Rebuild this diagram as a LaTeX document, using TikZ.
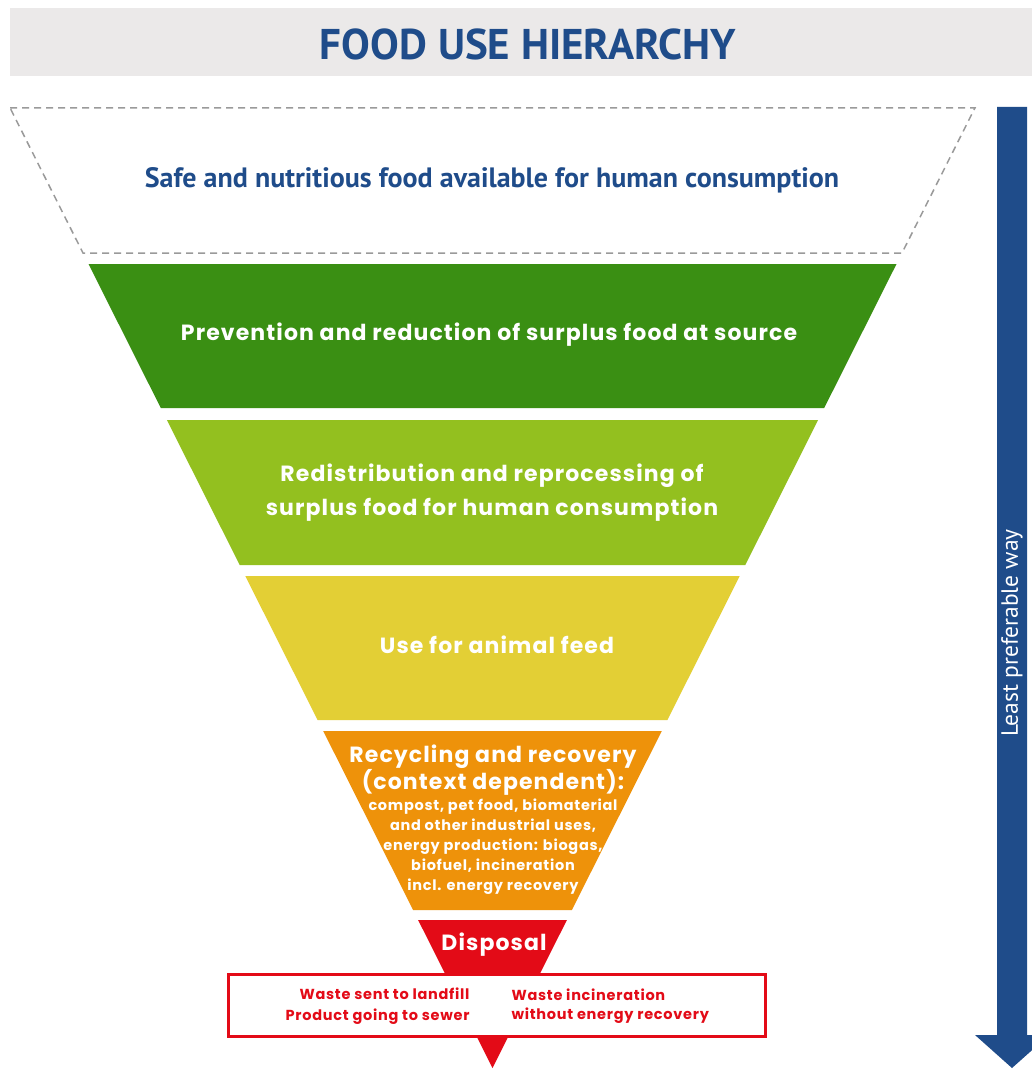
\documentclass[tikz,border=0pt]{standalone}
\usepackage{fontspec}
\setmainfont{Poppins}
\newfontfamily\rale[LetterSpace=5]{Poppins}
\newfontfamily\ptsans{PT Sans}
\definecolor{titlegray}{HTML}{EBE9E9}
\definecolor{navy}{HTML}{1F4C8A}
\definecolor{dgreen}{HTML}{3A8F13}
\definecolor{lgreen}{HTML}{93C01F}
\definecolor{fyellow}{HTML}{E3CF35}
\definecolor{forange}{HTML}{EE920A}
\definecolor{fred}{HTML}{E30B17}
\definecolor{dashgray}{HTML}{9A9A9A}
\tikzset{
  bandtxt/.style={text=white, font=\rale\bfseries\fontsize{22}{25}\selectfont, align=center},
  smalltxt/.style={text=white, font=\rale\bfseries\fontsize{14.5}{20}\selectfont, align=center},
  boxtxt/.style={text=fred, font=\rale\bfseries\fontsize{14.5}{22}\selectfont},
}
\begin{document}
\begin{tikzpicture}[x=1pt,y=-1pt]
\useasboundingbox (0,0) rectangle (1032,1070);
\fill[white] (0,0) rectangle (1032,1070);
% title
\fill[titlegray] (10,8) rectangle (1032,76);
\node[text=navy, font=\ptsans\bfseries\fontsize{43}{46}\selectfont] (title) at (528,44) {FOOD USE HIERARCHY};
% dashed top band
\draw[dashgray, line width=1.5pt, dash pattern=on 7pt off 5pt] (10.1,108) -- (974.9,108) -- (902,253) -- (83,253) -- cycle;
\node[text=navy, font=\ptsans\bfseries\fontsize{28}{30}\selectfont] (safe) at (492,180) {Safe and nutritious food available for human consumption};
% bands
\fill[dgreen] (88.5,264) -- (896.5,264) -- (824.2,408) -- (160.8,408) -- cycle;
\node[bandtxt] (prev) at (489,335) {Prevention and reduction of surplus food at source};
\fill[lgreen] (166.9,420) -- (818.1,420) -- (745.3,565) -- (239.7,565) -- cycle;
\node[bandtxt, font=\rale\bfseries\fontsize{22}{34}\selectfont] (redis) at (492,493) {Redistribution and reprocessing of\\surplus food for human consumption};
\fill[fyellow] (245.3,576) -- (739.7,576) -- (667.4,720) -- (317.6,720) -- cycle;
\node[bandtxt] (feed) at (497,645) {Use for animal feed};
\fill[forange] (323.2,731) -- (661.8,731) -- (571.9,910) -- (413.1,910) -- cycle;
\node[bandtxt, font=\rale\bfseries\fontsize{22}{26}\selectfont] (recy) at (493,770) {Recycling and recovery\\(context dependent):};
\node[smalltxt] (recy2) at (493,847) {compost, pet food, biomaterial\\and other industrial uses,\\energy production: biogas,\\biofuel, incineration\\incl. energy recovery};
\fill[fred] (418.1,920) -- (566.9,920) -- (492.5,1068) -- cycle;
\node[bandtxt] (disp) at (494,945) {Disposal};
% disposal box
\draw[fred, fill=white, line width=3pt] (228,974) rectangle (765,1036);
\node[boxtxt, anchor=east] (landfill) at (473,994) {Waste sent to landfill};
\node[boxtxt, anchor=east] (sewer) at (473,1017) {Product going to sewer};
\node[boxtxt, anchor=west] (incin) at (508,995) {Waste incineration};
\node[boxtxt, anchor=west] (noen) at (508,1016) {without energy recovery};
% arrow
\fill[navy] (997,107) -- (1027,107) -- (1027,1035) -- (1049,1035) -- (1012,1068) -- (975,1035) -- (997,1035) -- cycle;
\node[text=white, rotate=90, font=\ptsans\fontsize{23.5}{26}\selectfont] (least) at (1012,633) {Least preferable way};
\end{tikzpicture}
\end{document}
